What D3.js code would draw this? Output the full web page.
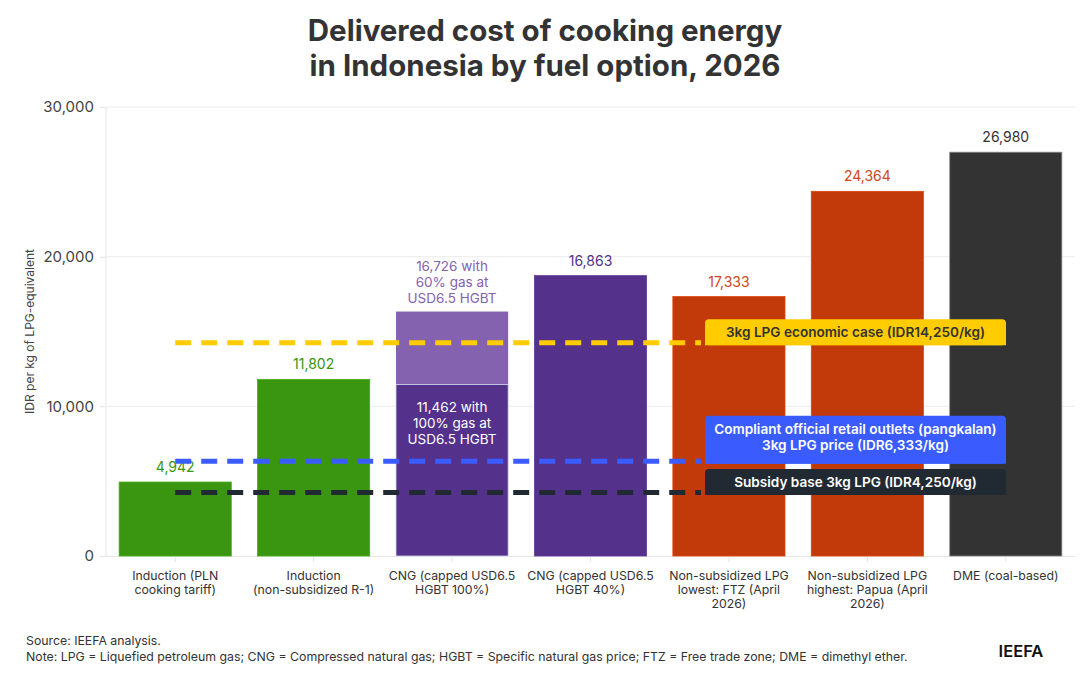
<!DOCTYPE html>
<html lang="en">
<head>
<meta charset="UTF-8">
<title>Delivered cost of cooking energy</title>
<script src="https://cdn.jsdelivr.net/npm/d3@7"></script>
<style>
  body { margin: 0; background: #fff; }
  svg { font-family: Inter, "Noto Sans", sans-serif; display: block; }
</style>
</head>
<body>
<svg id="chart" width="1090" height="694"></svg>
<script>
// categories (multi-line labels)
var categories = [
  ["Induction (PLN", "cooking tariff)"],
  ["Induction", "(non-subsidized R-1)"],
  ["CNG (capped USD6.5", "HGBT 100%)"],
  ["CNG (capped USD6.5", "HGBT 40%)"],
  ["Non-subsidized LPG", "lowest: FTZ (April", "2026)"],
  ["Non-subsidized LPG", "highest: Papua (April", "2026)"],
  ["DME (coal-based)"]
];
// bar heights as drawn
var values = [4942, 11802, 11462, 18733, 17333, 24364, 26980];
var valueLabels = ["4,942", "11,802", null, "16,863", "17,333", "24,364", "26,980"];
var barColors = ["#3a9610", "#3a9610", "#54318a", "#54318a", "#c2390a", "#c2390a", "#333333"];
var labelColors = ["#3a9610", "#3a9610", null, "#54318a", "#d0471a", "#d0471a", "#333333"];

// CNG 60% gas stacked top
var cngTop = 16333;
var cngUpperText = ["16,726 with", "60% gas at", "USD6.5 HGBT"];
var cngLowerText = ["11,462 with", "100% gas at", "USD6.5 HGBT"];

// reference lines
var refValues = [14250, 6333, 4250];
var refLabels = [
  ["3kg LPG economic case (IDR14,250/kg)"],
  ["Compliant official retail outlets (pangkalan)", "3kg LPG price (IDR6,333/kg)"],
  ["Subsidy base 3kg LPG (IDR4,250/kg)"]
];
var refColors = ["#ffcc00", "#3a5cff", "#212a33"];
var refTextColors = ["#333333", "#ffffff", "#ffffff"];

var yTicks = [0, 10000, 20000, 30000];

var svg = d3.select("#chart");

// title
svg.append("text").attr("x", 545).attr("y", 41).attr("text-anchor", "middle")
  .attr("font-size", 29.5).attr("font-weight", 700).attr("fill", "#333")
  .text("Delivered cost of cooking energy");
svg.append("text").attr("x", 545).attr("y", 76).attr("text-anchor", "middle")
  .attr("font-size", 29.5).attr("font-weight", 700).attr("fill", "#333")
  .text("in Indonesia by fuel option, 2026");

var x = d3.scaleBand().domain(d3.range(categories.length))
  .range([106, 1075]).paddingInner(0.19).paddingOuter(0.095);
var y = d3.scaleLinear().domain([0, 30000]).range([556, 107]);

// grid
svg.append("g").selectAll("line").data(yTicks.slice(1)).join("line")
  .attr("x1", 106).attr("x2", 1075)
  .attr("y1", d => y(d)).attr("y2", d => y(d))
  .attr("stroke", "#ececec").attr("stroke-width", 1);

// y axis
var yAxis = svg.append("g").attr("transform", "translate(106,0)")
  .call(d3.axisLeft(y).tickValues(yTicks).tickFormat(d3.format(",")).tickSize(6).tickPadding(6));
yAxis.select(".domain").attr("stroke", "#e6e6e6").attr("d", "M0," + y(30000) + "V" + y(0));
yAxis.selectAll(".tick line").attr("stroke", "#e6e6e6");
yAxis.selectAll(".tick text").attr("font-size", 15).attr("fill", "#444")
  .attr("font-family", "Inter, sans-serif");

svg.append("text")
  .attr("transform", "translate(34," + ((y(0) + y(30000)) / 2) + ") rotate(-90)")
  .attr("text-anchor", "middle").attr("font-size", 12).attr("fill", "#444")
  .text("IDR per kg of LPG-equivalent");

// x axis
var xAxis = svg.append("g").attr("transform", "translate(0," + y(0) + ")")
  .call(d3.axisBottom(x).tickSize(6).tickFormat(""));
xAxis.select(".domain").attr("stroke", "#e6e6e6").attr("d", "M100,0.5H1075");
xAxis.selectAll(".tick line").attr("stroke", "#e6e6e6");

svg.append("g").selectAll("text").data(categories).join("text")
  .attr("x", (d, i) => x(i) + x.bandwidth() / 2)
  .attr("y", 580)
  .attr("text-anchor", "middle").attr("font-size", 12.3).attr("fill", "#333")
  .selectAll("tspan").data(d => d).join("tspan")
  .attr("x", function () { return d3.select(this.parentNode).attr("x"); })
  .attr("dy", (d, i) => i === 0 ? 0 : 14)
  .text(d => d);

// CNG upper (60% gas) segment
svg.append("rect")
  .attr("x", x(2)).attr("width", x.bandwidth())
  .attr("y", y(cngTop)).attr("height", y(values[2]) - y(cngTop))
  .attr("fill", "#8462b0");

// bars
svg.append("g").selectAll("rect").data(values).join("rect")
  .attr("x", (d, i) => x(i)).attr("width", x.bandwidth())
  .attr("y", d => y(d)).attr("height", d => y(0) - y(d))
  .attr("fill", (d, i) => barColors[i])
  .attr("stroke", (d, i) => i === 6 ? "#888" : (i === 2 ? "#cfd6ee" : d3.color(barColors[i]).brighter(0.4)))
  .attr("stroke-width", 0.8);

// value labels
var labelIdx = d3.range(values.length).filter(i => valueLabels[i] !== null);
svg.append("g").selectAll("text").data(labelIdx).join("text")
  .attr("x", i => x(i) + x.bandwidth() / 2)
  .attr("y", i => y(values[i]) - 10)
  .attr("text-anchor", "middle").attr("font-size", 14)
  .attr("fill", i => labelColors[i])
  .text(i => valueLabels[i]);

// CNG annotations
svg.append("text").attr("x", x(2) + x.bandwidth() / 2).attr("y", y(cngTop) - 41)
  .attr("text-anchor", "middle").attr("font-size", 13.5).attr("fill", "#8462b0")
  .selectAll("tspan").data(cngUpperText).join("tspan")
  .attr("x", x(2) + x.bandwidth() / 2).attr("dy", (d, i) => i === 0 ? 0 : 16).text(d => d);
svg.append("text").attr("x", x(2) + x.bandwidth() / 2).attr("y", y(values[2]) + 28)
  .attr("text-anchor", "middle").attr("font-size", 13.5).attr("fill", "#fff")
  .selectAll("tspan").data(cngLowerText).join("tspan")
  .attr("x", x(2) + x.bandwidth() / 2).attr("dy", (d, i) => i === 0 ? 0 : 16).text(d => d);

// reference lines + label boxes
var lineStart = x(0) + x.bandwidth() / 2;
var boxX = 705, boxW = 301;
refValues.forEach(function (v, i) {
  var yy = y(v);
  svg.append("line")
    .attr("x1", lineStart).attr("x2", boxX - 4)
    .attr("y1", yy).attr("y2", yy)
    .attr("stroke", refColors[i]).attr("stroke-width", 5)
    .attr("stroke-dasharray", "16,10");
  var lines = refLabels[i];
  var h = lines.length === 1 ? 26 : 48;
  var bottom = yy + 2.5;
  svg.append("rect").attr("x", boxX).attr("y", bottom - h).attr("width", boxW).attr("height", h)
    .attr("rx", 4).attr("fill", refColors[i]);
  svg.append("rect").attr("x", boxX).attr("y", bottom - 6).attr("width", boxW).attr("height", 6)
    .attr("fill", refColors[i]);
  svg.append("text").attr("x", boxX + boxW / 2).attr("y", bottom - h + 18)
    .attr("text-anchor", "middle").attr("font-size", 13.6).attr("font-weight", 600)
    .attr("fill", refTextColors[i])
    .selectAll("tspan").data(lines).join("tspan")
    .attr("x", boxX + boxW / 2).attr("dy", (d, j) => j === 0 ? 0 : 16).text(d => d);
});

// footer
svg.append("text").attr("x", 26).attr("y", 645).attr("font-size", 12.3).attr("fill", "#333")
  .text("Source: IEEFA analysis.");
svg.append("text").attr("x", 26).attr("y", 661).attr("font-size", 12.3).attr("fill", "#333")
  .text("Note: LPG = Liquefied petroleum gas; CNG = Compressed natural gas; HGBT = Specific natural gas price; FTZ = Free trade zone; DME = dimethyl ether.");
svg.append("text").attr("x", 1021).attr("y", 657).attr("text-anchor", "middle")
  .attr("font-size", 16.5).attr("font-weight", 600).attr("fill", "#111")
  .text("IEEFA");
</script>
</body>
</html>
